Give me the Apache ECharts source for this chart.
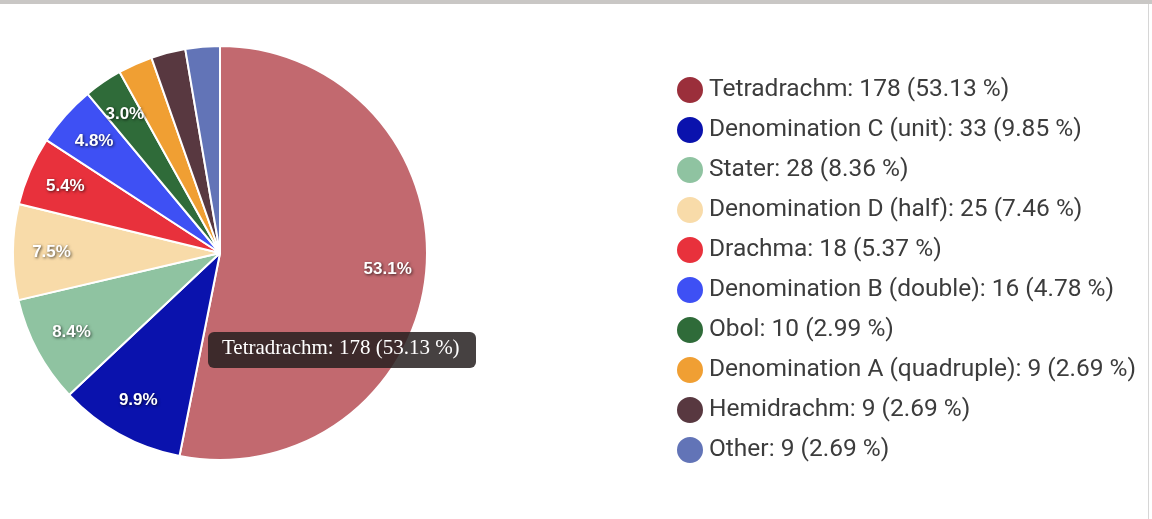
<!DOCTYPE html>
<html>
<head>
<meta charset="utf-8">
<script src="https://cdn.jsdelivr.net/npm/echarts@6/dist/echarts.min.js"></script>
<style>
  html, body { margin: 0; padding: 0; background: #fff; }
  #visualisation { width: 1152px; height: 519px; }
</style>
</head>
<body>
<div id="visualisation"></div>
<script>
// Data
const names = ['Tetradrachm', 'Denomination C (unit)', 'Stater', 'Denomination D (half)', 'Drachma',
  'Denomination B (double)', 'Obol', 'Denomination A (quadruple)', 'Hemidrachm', 'Other'];
const counts = [178, 33, 28, 25, 18, 16, 10, 9, 9, 9];
const colors = ['#9b2f3b', '#0a12ad', '#8fc3a1', '#f8dba9', '#e8313c',
  '#3e50f4', '#2f6b39', '#f09f33', '#583840', '#6274b7'];
const hoverColor = '#c2696f'; // slice under the mouse is drawn lighter
const hoverIndex = 0;

function drawVisualisation() {
  let visualisation = echarts.init(document.getElementById('visualisation'));
  window.onresize = () => visualisation.resize();

  const total = counts.reduce((a, b) => a + b, 0);
  const pct = v => v / total * 100;

  const pieData = names.map((n, i) => ({
    name: n,
    value: counts[i],
    itemStyle: { color: i === hoverIndex ? hoverColor : colors[i] }
  }));

  const tipText = `${names[hoverIndex]}: ${counts[hoverIndex]} (${pct(counts[hoverIndex]).toFixed(2)} %)`;

  let option = {
    animation: false,
    legend: {
      orient: 'vertical',
      left: 675,
      top: 75,
      padding: 0,
      icon: 'circle',
      itemWidth: 28,
      itemHeight: 28,
      itemGap: 10,
      selectedMode: false,
      data: names.map((n, i) => ({ name: n, itemStyle: { color: colors[i] } })),
      textStyle: { fontFamily: 'Roboto', fontSize: 24.5, lineHeight: 28, color: '#3c3c3c' },
      formatter: name => {
        const v = counts[names.indexOf(name)];
        return `${name}: ${v} (${pct(v).toFixed(2)} %)`;
      }
    },
    series: [
      {
        type: 'pie',
        center: [220, 253],
        radius: 207,
        startAngle: 90,
        clockwise: true,
        silent: true,
        label: { show: false },
        labelLine: { show: false },
        itemStyle: { borderColor: '#fff', borderWidth: 2 },
        data: pieData
      },
      {
        // label ring only, puts the percent labels at 0.8 of the radius
        type: 'pie',
        center: [220, 253],
        radius: [124, 207],
        startAngle: 90,
        clockwise: true,
        silent: true,
        itemStyle: { color: 'rgba(0,0,0,0)', borderWidth: 0 },
        labelLine: { show: false },
        label: {
          show: true,
          position: 'inside',
          fontFamily: 'Liberation Sans',
          fontWeight: 'bold',
          fontSize: 17,
          color: '#fff',
          textShadowColor: 'rgba(0,0,0,0.7)',
          textShadowBlur: 3,
          textShadowOffsetX: 1,
          textShadowOffsetY: 1,
          formatter: p => pct(p.value) >= 2.9 ? pct(p.value).toFixed(1) + '%' : ''
        },
        data: names.map((n, i) => ({ name: n, value: counts[i] }))
      }
    ],
    graphic: [
      { type: 'rect', left: 0, top: 0, z: 100, shape: { width: 1152, height: 4 }, style: { fill: '#c9c7c5' } },
      { type: 'rect', left: 1148, top: 4, z: 100, shape: { width: 1, height: 515 }, style: { fill: '#d6d6d6' } },
      {
        type: 'group',
        left: 208,
        top: 332,
        z: 100,
        children: [
          { type: 'rect', z: 100, shape: { width: 268, height: 36, r: 6 }, style: { fill: 'rgba(38,32,32,0.85)' } },
          {
            type: 'text', left: 14, top: 6, z: 101,
            style: { text: tipText, fill: '#fff', font: '21px "Liberation Serif"' }
          }
        ]
      }
    ]
  };

  visualisation.setOption(option);
}

window.addEventListener('load', drawVisualisation);
</script>
</body>
</html>
